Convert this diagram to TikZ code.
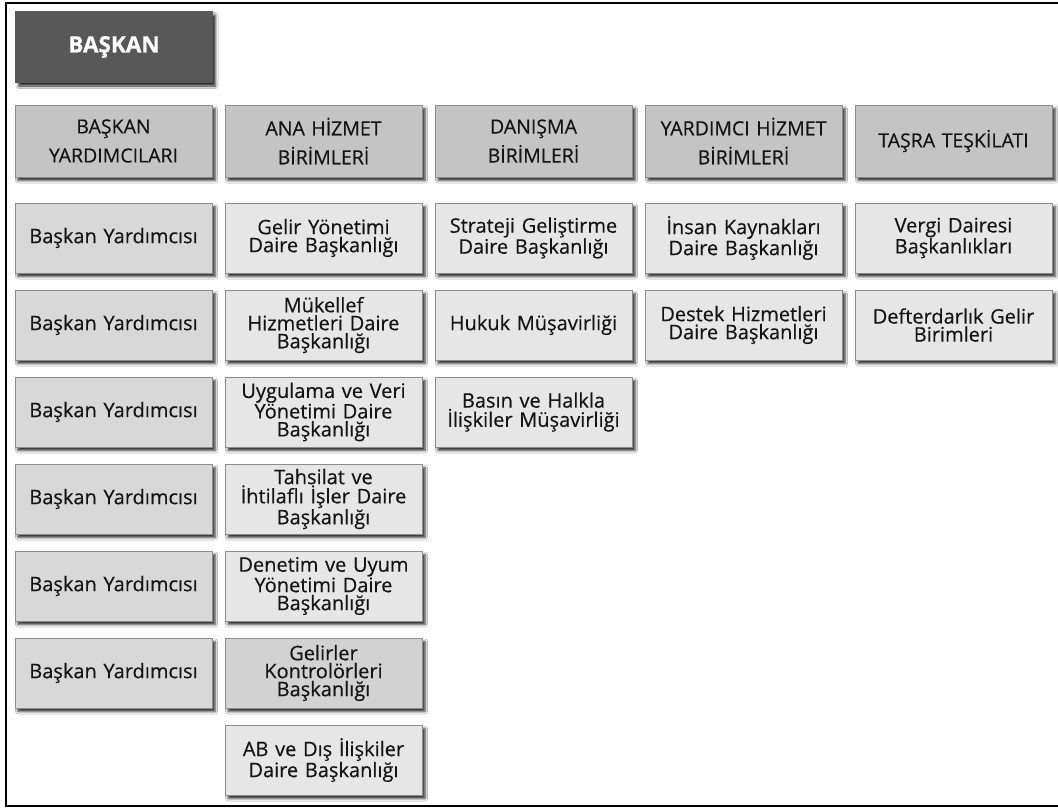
\documentclass[tikz,border=0pt]{standalone}
\usepackage{fontspec}
\setmainfont{Open Sans}[FakeBold=0.35]
\newfontfamily\bossfont{Open Sans}[FakeBold=0.6]
\usetikzlibrary{shadows.blur}
\definecolor{bossfill}{HTML}{585858}
\definecolor{headfill}{HTML}{C4C4C4}
\definecolor{vicefill}{HTML}{D8D8D8}
\definecolor{unitfill}{HTML}{E6E6E6}
\definecolor{darkunit}{HTML}{D2D2D2}
\definecolor{boxline}{HTML}{8C8C8C}
\definecolor{inktext}{HTML}{141414}
\begin{document}
\begin{tikzpicture}[x=1pt,y=-1pt,
  cell/.style={draw=boxline, line width=0.8pt, minimum width=197pt,
    minimum height=70pt, inner sep=0pt, text width=194pt, align=center,
    text=inktext,
    blur shadow={shadow xshift=3pt, shadow yshift=-3.5pt,
      shadow blur radius=2.5pt, shadow opacity=85}},
  boss/.style={cell, fill=bossfill, draw=bossfill, minimum height=71pt,
    text=white, font=\fontsize{22.5}{24}\bossfont\bfseries},
  head/.style={cell, fill=headfill, minimum height=72pt,
    font=\fontsize{19.5}{29}\selectfont},
  vice/.style={cell, fill=vicefill, font=\fontsize{20}{18}\selectfont},
  unit/.style={cell, fill=unitfill, font=\fontsize{20}{18}\selectfont},
  darkcell/.style={unit, fill=darkunit}
]
\useasboundingbox (0,0) rectangle (1058,808);
\fill[white] (0,0) rectangle (1058,808);

% outer frame (open on the right)
\draw[line width=2.5pt] (1058,3) -- (6,3) -- (6,806) -- (1058,806);

% president
\node[boss] (boss) at (114,47) {BAŞKAN};

% column headings
\node[head] (h1) at (113.5,141) {BAŞKAN\\YARDIMCILARI};
\node[head] (h2) at (323.5,141) {ANA HİZMET\\BİRİMLERİ};
\node[head] (h3) at (533.5,141) {DANIŞMA\\BİRİMLERİ};
\node[head] (h4) at (743.5,141) {YARDIMCI HİZMET\\BİRİMLERİ};
\node[head] (h5) at (953.5,141) {TAŞRA TEŞKİLATI};

% vice presidents
\node[vice] (v1) at (113.5,238) {Başkan Yardımcısı};
\node[vice] (v2) at (113.5,325) {Başkan Yardımcısı};
\node[vice] (v3) at (113.5,412) {Başkan Yardımcısı};
\node[vice] (v4) at (113.5,499) {Başkan Yardımcısı};
\node[vice] (v5) at (113.5,586) {Başkan Yardımcısı};
\node[vice] (v6) at (113.5,673) {Başkan Yardımcısı};

% main service units
\node[unit] (a1) at (323.5,238) {Gelir Yönetimi\\Daire Başkanlığı};
\node[unit] (a2) at (323.5,325) {Mükellef\\Hizmetleri Daire\\Başkanlığı};
\node[unit] (a3) at (323.5,412) {Uygulama ve Veri\\Yönetimi Daire\\Başkanlığı};
\node[unit] (a4) at (323.5,499) {Tahsilat ve\\İhtilaflı İşler Daire\\Başkanlığı};
\node[unit] (a5) at (323.5,586) {Denetim ve Uyum\\Yönetimi Daire\\Başkanlığı};
\node[darkcell] (a6) at (323.5,673) {Gelirler\\Kontrolörleri\\Başkanlığı};
\node[unit] (a7) at (323.5,760) {AB ve Dış İlişkiler\\Daire Başkanlığı};

% advisory units
\node[unit] (d1) at (533.5,238) {Strateji Geliştirme\\Daire Başkanlığı};
\node[unit] (d2) at (533.5,325) {Hukuk Müşavirliği};
\node[unit] (d3) at (533.5,412) {Basın ve Halkla\\İlişkiler Müşavirliği};

% auxiliary service units
\node[unit] (y1) at (743.5,238) {İnsan Kaynakları\\Daire Başkanlığı};
\node[unit] (y2) at (743.5,325) {Destek Hizmetleri\\Daire Başkanlığı};

% provincial organisation
\node[unit] (t1) at (953.5,238) {Vergi Dairesi\\Başkanlıkları};
\node[unit] (t2) at (953.5,325) {Defterdarlık Gelir\\Birimleri};
\end{tikzpicture}
\end{document}
